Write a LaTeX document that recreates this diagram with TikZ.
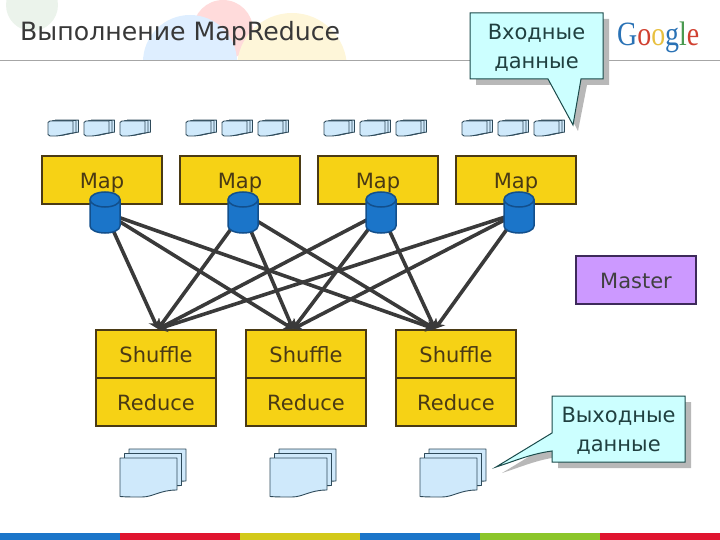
\documentclass[tikz,border=0pt]{standalone}
\usepackage{fontspec}
\setmainfont{DejaVu Sans}
\newfontfamily\logofont{Liberation Serif}
\usetikzlibrary{arrows.meta,positioning}
\definecolor{stageyellow}{HTML}{F6D215}
\definecolor{stageline}{HTML}{4A3A14}
\definecolor{masterfill}{HTML}{CC99FF}
\definecolor{masterline}{HTML}{3D2A5A}
\definecolor{sheetfill}{HTML}{CFE9FB}
\definecolor{sheetline}{HTML}{2E4A5A}
\definecolor{dbblue}{HTML}{1B75C9}
\definecolor{dbline}{HTML}{124F8C}
\definecolor{noteline}{HTML}{1A4A4A}
\definecolor{notefill}{HTML}{CCFFFF}
\definecolor{notetext}{HTML}{204040}
\definecolor{linkgray}{HTML}{3A3A3A}
\definecolor{stripered}{HTML}{E0142F}
\definecolor{stripeyellow}{HTML}{D3C91A}
\definecolor{stripegreen}{HTML}{8CC62A}
\begin{document}
\begin{tikzpicture}[
  x=1pt, y=-1pt,
  stagebox/.style={draw=stageline, fill=stageyellow, line width=2pt, outer sep=0pt,
    minimum width=120pt, minimum height=48pt, inner sep=0pt, text=stageline,
    text height=22pt, text depth=5pt, font=\fontsize{21}{25}\selectfont},
  masterbox/.style={stagebox, draw=masterline, fill=masterfill, text=black!75},
  dbspot/.style={minimum width=30pt, minimum height=41pt, inner sep=0pt, outer sep=0pt},
  arr/.style={-{Stealth[length=9pt,width=12pt]}, line width=3.6pt, draw=linkgray},
  sheet/.style={draw=sheetline, fill=sheetfill, line width=0.9pt, line join=round},
  notebody/.style={draw=noteline, fill=notefill, line width=1pt, line join=miter},
  noteshadow/.style={fill=black!28},
  notelabel/.style={text=notetext, align=center, inner sep=0pt,
    font=\fontsize{21}{29}\selectfont},
  dbdisk/.pic={
    \draw[draw=dbline, fill=dbblue, line width=1.5pt] (-15,-13) -- (-15,13.5)
      arc[start angle=180, end angle=360, x radius=15, y radius=-7] -- (15,-13)
      arc[start angle=0, end angle=180, x radius=15, y radius=-7.5] -- cycle;
    \draw[draw=dbline, line width=1.5pt] (-15,-13)
      arc[start angle=180, end angle=360, x radius=15, y radius=-7.5];
  },
  smalldocs/.pic={
    \foreach \s in {5.5,3,0}
      \draw[sheet] (\s,2.5-\s/6) -- (\s+2,1-\s/6) -- (\s+25,1-\s/6) -- (\s+25,13-\s/6)
        .. controls (\s+17,14-\s/6) and (\s+12,16-\s/6) .. (\s+8,16-\s/6) -- (\s+2,16-\s/6) -- (\s,14.5-\s/6) -- cycle;
  },
  bigdocs/.pic={
    \foreach \s in {9,4.5,0}
      \draw[sheet] (\s,8-\s) -- (\s+57,8-\s) -- (\s+57,40-\s)
        .. controls (\s+40,40-\s) and (\s+33,47-\s) .. (\s+22,47-\s)
        .. controls (\s+12,47-\s) and (\s+6,47-\s) .. (\s,46.5-\s) -- cycle;
  }
]
  \useasboundingbox (0,0) rectangle (720,540);
  \begin{scope}
    \clip (0,0) rectangle (720,60);
    \fill[green!40!black!8] (32,5) circle (26);
    \fill[red!14] (223,30) circle (30);
    \fill[blue!50!cyan!13] (190,62) circle (47);
    \fill[yellow!60!orange!14] (292,68) circle (55);
  \end{scope}
  \draw[black!35, line width=0.8pt] (0,60) -- (720,60);
  \node[anchor=west, inner sep=0pt, text=black!78, font=\fontsize{25.2}{29}\selectfont] (title) at (20,33.5) {Выполнение MapReduce};
  \node[anchor=west, inner sep=0pt, font=\logofont\fontsize{34}{34}\selectfont] (logo) at (617,37.5)
    {\scalebox{0.82}[1]{\textcolor[HTML]{2A72B5}{G}\textcolor[HTML]{D04030}{o}\textcolor[HTML]{E8C040}{o}\textcolor[HTML]{2A72B5}{g}\textcolor[HTML]{4A9A50}{l}\textcolor[HTML]{D04030}{e}}};

  \foreach \x in {48,84,120,186,222,258,324,360,396,462,498,534}
    \pic at (\x,120) {smalldocs};

  \node[stagebox] (mapa) at (102,180) {Map};
  \node[stagebox, right=18pt of mapa] (mapb) {Map};
  \node[stagebox, right=18pt of mapb] (mapc) {Map};
  \node[stagebox, right=18pt of mapc] (mapd) {Map};

  \node[dbspot] (dba) at ([xshift=3pt,yshift=-8.5pt]mapa.south) {};
  \node[dbspot] (dbb) at ([xshift=3pt,yshift=-8.5pt]mapb.south) {};
  \node[dbspot] (dbc) at ([xshift=3pt,yshift=-8.5pt]mapc.south) {};
  \node[dbspot] (dbd) at ([xshift=3pt,yshift=-8.5pt]mapd.south) {};

  \node[masterbox] (master) at (636,280) {Master};

  \node[stagebox] (shufflea) at (156,354) {Shuffle};
  \node[stagebox, right=30pt of shufflea] (shuffleb) {Shuffle};
  \node[stagebox, right=30pt of shuffleb] (shufflec) {Shuffle};
  \node[stagebox, below=0pt of shufflea] (reducea) {Reduce};
  \node[stagebox, below=0pt of shuffleb] (reduceb) {Reduce};
  \node[stagebox, below=0pt of shufflec] (reducec) {Reduce};

  \coordinate (huba) at ([xshift=2pt,yshift=1pt]shufflea.north);
  \coordinate (hubb) at ([xshift=-13pt,yshift=1pt]shuffleb.north);
  \coordinate (hubc) at ([xshift=-21pt,yshift=1pt]shufflec.north);

  \foreach \d in {a,b,c,d}
    \foreach \h in {a,b,c}
      \draw[arr] (db\d.center) -- (hub\h);
  \foreach \d in {a,b,c,d}
    \pic at (db\d) {dbdisk};

  \pic at (120,450) {bigdocs};
  \pic at (270,450) {bigdocs};
  \pic at (420,450) {bigdocs};

  \fill[noteshadow] (476,19) -- (609,19) -- (609,85) -- (587,85) -- (578,131) -- (554,85) -- (476,85) -- cycle;
  \draw[notebody] (470,13) -- (603,13) -- (603,79) -- (581,79) -- (573,125) -- (548,79) -- (470,79) -- cycle;
  \node[notelabel] (indata) at (536.5,47.5) {Входные\\данные};

  \fill[noteshadow] (558,402) -- (691,402) -- (691,468) -- (558,468) -- (558,457)
    .. controls (536,460) and (521,467) .. (502,473) -- (558,439) -- cycle;
  \draw[notebody] (552,396) -- (685,396) -- (685,462) -- (552,462) -- (552,451)
    .. controls (530,454) and (515,461) .. (496,467) -- (552,433) -- cycle;
  \node[notelabel] (outdata) at (618.5,430.5) {Выходные\\данные};

  \fill[dbblue] (0,533) rectangle (120,540);
  \fill[stripered] (120,533) rectangle (240,540);
  \fill[stripeyellow] (240,533) rectangle (360,540);
  \fill[dbblue] (360,533) rectangle (480,540);
  \fill[stripegreen] (480,533) rectangle (600,540);
  \fill[stripered] (600,533) rectangle (720,540);
\end{tikzpicture}
\end{document}
